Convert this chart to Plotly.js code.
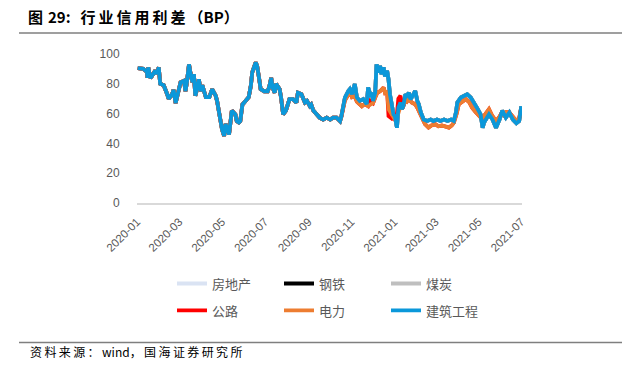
<!DOCTYPE html>
<html><head><meta charset="utf-8">
<script src="https://cdn.plot.ly/plotly-3.0.1.min.js"></script>
<style>html,body{margin:0;padding:0;background:#fff;}#chart{width:642px;height:365px;}</style>
</head><body><div id="chart"></div>
<script>
// 建筑工程 (blue) — also covers the hidden 房地产 / 钢铁 / 煤炭 lines
const constructionDates = ['2020-01-02','2020-01-10','2020-01-15','2020-01-16','2020-01-17','2020-01-20','2020-01-22','2020-01-27','2020-01-29','2020-02-01','2020-02-03','2020-02-08','2020-02-13','2020-02-15','2020-02-20','2020-02-22','2020-02-25','2020-02-27','2020-03-01','2020-03-03','2020-03-08','2020-03-10','2020-03-12','2020-03-15','2020-03-17','2020-03-20','2020-03-22','2020-03-24','2020-03-27','2020-03-29','2020-04-01','2020-04-03','2020-04-08','2020-04-13','2020-04-17','2020-04-22','2020-04-24','2020-04-27','2020-04-29','2020-05-01','2020-05-04','2020-05-06','2020-05-08','2020-05-11','2020-05-13','2020-05-15','2020-05-20','2020-05-22','2020-05-25','2020-05-27','2020-05-30','2020-06-03','2020-06-06','2020-06-08','2020-06-11','2020-06-13','2020-06-18','2020-06-20','2020-06-23','2020-06-25','2020-06-30','2020-07-05','2020-07-07','2020-07-10','2020-07-12','2020-07-15','2020-07-17','2020-07-22','2020-07-24','2020-07-27','2020-07-31','2020-08-05','2020-08-10','2020-08-15','2020-08-17','2020-08-22','2020-08-27','2020-08-30','2020-09-03','2020-09-05','2020-09-08','2020-09-12','2020-09-17','2020-09-22','2020-09-27','2020-10-02','2020-10-06','2020-10-11','2020-10-16','2020-10-18','2020-10-23','2020-10-28','2020-10-30','2020-11-02','2020-11-06','2020-11-09','2020-11-13','2020-11-18','2020-11-23','2020-11-25','2020-11-28','2020-11-30','2020-12-02','2020-12-05','2020-12-07','2020-12-10','2020-12-12','2020-12-14','2020-12-17','2020-12-19','2020-12-22','2020-12-24','2020-12-26','2020-12-29','2020-12-31','2021-01-02','2021-01-05','2021-01-07','2021-01-10','2021-01-12','2021-01-14','2021-01-17','2021-01-19','2021-01-22','2021-01-24','2021-01-26','2021-01-31','2021-02-03','2021-02-05','2021-02-08','2021-02-12','2021-02-17','2021-02-22','2021-02-26','2021-03-03','2021-03-08','2021-03-13','2021-03-18','2021-03-23','2021-03-27','2021-03-30','2021-04-01','2021-04-06','2021-04-11','2021-04-15','2021-04-20','2021-04-25','2021-04-30','2021-05-04','2021-05-07','2021-05-09','2021-05-14','2021-05-16','2021-05-21','2021-05-26','2021-05-31','2021-06-04','2021-06-09','2021-06-14','2021-06-19','2021-06-24','2021-06-28','2021-07-01'];
const constructionVals = [90.5,90,88,84,91,84,85,89,86.5,91,80,79,73,70,73,76,67,71,77.5,81,82,75,81,93,87.6,81,86.5,72,77.5,83,75,79,71,71,76.4,72,68.5,60.7,54,49.4,45,53,50.5,46,54,62,59.5,55,54,55,66,68.5,69.7,71,78.6,87.6,94.4,92,83,76.4,75,75,77.5,84,77.5,74,80,76.4,71,59.5,62,69.7,69.7,67.4,74,73,67.4,68.5,65,66,62,59.5,57.3,56,57.3,56,57.3,57.3,55,58.4,70.8,75.3,76.4,73,79.8,70.8,68.5,69.7,66.3,77.5,73,74,68.5,74,93,87.6,92,86.5,91,85,88.8,83,73,65,59.5,58.4,50.5,64,67.4,63,65,73,72,74,69.7,70.8,75.3,68.5,66.3,60.7,56,55,56,55,56,55,56,55,56,55,60.7,67.4,70.8,72,73,70.8,67.4,63,59.5,50.5,54,57.3,59.5,56,50.5,56,62,57.3,60.7,56,53.5,55,65];

// 电力 (orange) — where it separates from 建筑工程
const powerTailDates = ['2020-10-18','2020-10-23','2020-10-28','2020-10-30','2020-11-02','2020-11-06','2020-11-09','2020-11-13','2020-11-16','2020-11-20','2020-11-25','2020-11-28','2020-12-02','2020-12-05','2020-12-08','2020-12-12','2020-12-17','2020-12-19','2020-12-22','2020-12-24','2020-12-29','2020-12-31','2021-01-02','2021-01-05','2021-01-10','2021-01-12','2021-01-14','2021-01-17','2021-01-19','2021-01-22','2021-01-26','2021-01-31','2021-02-03','2021-02-05','2021-02-10','2021-02-14','2021-02-19','2021-02-23','2021-03-01','2021-03-05','2021-03-10','2021-03-15','2021-03-20','2021-03-24','2021-03-27','2021-03-31','2021-04-03','2021-04-08','2021-04-13','2021-04-18','2021-04-22','2021-04-27','2021-05-02','2021-05-06','2021-05-09','2021-05-13','2021-05-16','2021-05-20','2021-05-26','2021-05-31','2021-06-02','2021-06-07','2021-06-10','2021-06-14','2021-06-18','2021-06-24','2021-06-28','2021-07-01'];
const powerTailVals = [58,69,73,74.5,71,71.5,68,66,65,66.5,65,66,67,70.8,74,75,77.5,74,75,63,58.5,57.3,56,57,65,63,65,68.5,68,70,67.5,66.3,64,62,57.3,53,50.6,52,52.8,51.5,52,51.5,50.6,52,54,60,66.3,68,69.7,67.5,64,61,58.4,56.5,58.4,60.5,63,59,55,58,59.5,58.5,61,60.7,58,55,57,64];

// 公路 (red) — where it separates from 电力
const roadTailDates = ['2020-10-18','2020-10-23','2020-10-28','2020-10-30','2020-11-02','2020-11-06','2020-11-09','2020-11-13','2020-11-16','2020-11-20','2020-11-25','2020-11-28','2020-12-02','2020-12-05','2020-12-08','2020-12-12','2020-12-17','2020-12-19','2020-12-22','2020-12-24','2020-12-29','2020-12-31','2021-01-02','2021-01-05','2021-01-07','2021-01-10','2021-01-12','2021-01-14','2021-01-17','2021-01-19','2021-01-22','2021-01-26','2021-01-31','2021-02-03','2021-02-05','2021-02-10','2021-02-14','2021-02-19','2021-02-23','2021-03-01','2021-03-05','2021-03-10','2021-03-15','2021-03-20','2021-03-24','2021-03-27','2021-03-31','2021-04-03','2021-04-08','2021-04-13','2021-04-18','2021-04-22','2021-04-27','2021-05-02','2021-05-06','2021-05-09','2021-05-13','2021-05-16','2021-05-20','2021-05-26','2021-05-31','2021-06-02','2021-06-07','2021-06-10','2021-06-14','2021-06-18','2021-06-24','2021-06-28','2021-07-01'];
const roadTailVals = [58,69,73,74.5,71,71.5,68,66,65,66.5,65,68.5,67,70.8,74,75,77.5,74,75,58.4,56.5,57,56,60,70,72,66,65,68.5,68,70,67.5,66.3,64,62,57.3,53,50.6,52,52.8,51.5,52,51.5,50.6,52,54,60,66.3,68,69.7,67.5,64,61,58.4,56.5,58.4,60.5,63,59,55,58,59.5,58.5,61,60.7,58,55,57,64];

const seriesNames = ['房地产','钢铁','煤炭','公路','电力','建筑工程'];
const seriesColors = ['#DAE3F3','#000000','#BFBFBF','#FF0000','#ED7D31','#0B98DA'];
const xTicks = ['2020-01-01','2020-03-01','2020-05-01','2020-07-01','2020-09-01','2020-11-01','2021-01-01','2021-03-01','2021-05-01','2021-07-01'];
const xTickLabels = ['2020-01','2020-03','2020-05','2020-07','2020-09','2020-11','2021-01','2021-03','2021-05','2021-07'];
const titleFig = '图';
const titleNum = '29:';
const titleBody = '行业信用利差';
const titleUnit = '（BP）';
const sourceHead = '资料来源：';
const sourceVendor = 'wind，';
const sourceOrg = '国海证券研究所';

const splitDate = '2020-10-18';
function withTail(tailD, tailV){
  const d=[], v=[];
  constructionDates.forEach((dt,i)=>{ if(dt<splitDate){d.push(dt); v.push(constructionVals[i]);} });
  return {x:d.concat(tailD), y:v.concat(tailV)};
}
const power = withTail(powerTailDates, powerTailVals);
const road = withTail(roadTailDates, roadTailVals);

const xs = [constructionDates, constructionDates, constructionDates, road.x, power.x, constructionDates];
const ys = [constructionVals, constructionVals, constructionVals, road.y, power.y, constructionVals];

const traces = seriesNames.map((n,i)=>({
  type:'scatter', mode:'lines', name:n, x:xs[i], y:ys[i],
  line:{color:seriesColors[i], width:3.8},
  legend: i<3 ? 'legend' : 'legend2', hoverinfo:'skip'
}));

// emulate letter spacing
const TS = '\u2009';
const spaced = s => Array.from(s).join(TS);

const L=137, R=522, T=54, B=203.3;
const W=R-L, H=B-T;
const px = x => (x-L)/W, py = y => (B-y)/H;
const legFont = {family:'"Noto Sans CJK SC", "Liberation Sans", sans-serif', size:13, color:'#595959'};

const titleStr = '<b>' + titleFig + '\u2004' + titleNum + '\u2004\u2004' + spaced(titleBody) + TS + titleUnit + '</b>';
const sourceStr = spaced(sourceHead) + TS + sourceVendor + TS + spaced(sourceOrg);

const layout = {
  width:642, height:365,
  margin:{l:L, r:642-R, t:T, b:365-B, pad:0},
  paper_bgcolor:'#fff', plot_bgcolor:'#fff',
  showlegend:true,
  title:{text:titleStr, x:28/642, xanchor:'left', xref:'container', y:1-18/365, yanchor:'middle', yref:'container',
    font:{family:'"Noto Sans CJK SC", "Liberation Sans", sans-serif', size:15, color:'#000'}},
  xaxis:{type:'date', range:['2020-01-01','2021-07-02'], tickvals:xTicks, ticktext:xTickLabels, tickangle:-45,
    showgrid:false, zeroline:false, showline:true, linecolor:'#D9D9D9', linewidth:1.5,
    ticks:'outside', ticklen:6, tickcolor:'rgba(0,0,0,0)',
    tickfont:{family:'"Liberation Sans", Arial, sans-serif', size:11.5, color:'#595959'}},
  yaxis:{range:[0,100], tickvals:[0,20,40,60,80,100], showgrid:false, zeroline:false, showline:false,
    ticks:'outside', ticklen:14, tickcolor:'rgba(0,0,0,0)',
    tickfont:{family:'"Liberation Sans", Arial, sans-serif', size:12, color:'#595959'}},
  legend:{orientation:'h', x:px(172), xanchor:'left', y:py(284), yanchor:'middle', font:legFont,
    entrywidth:62, entrywidthmode:'pixels', bgcolor:'rgba(0,0,0,0)', traceorder:'normal'},
  legend2:{orientation:'h', x:px(172), xanchor:'left', y:py(311), yanchor:'middle', font:legFont,
    entrywidth:62, entrywidthmode:'pixels', bgcolor:'rgba(0,0,0,0)', traceorder:'normal'},
  shapes:[
    {type:'line', xref:'paper', yref:'paper', x0:px(19), x1:px(622), y0:py(33), y1:py(33), line:{color:'#7F7F7F', width:1.5}},
    {type:'line', xref:'paper', yref:'paper', x0:px(19), x1:px(622), y0:py(343), y1:py(343), line:{color:'#7F7F7F', width:1.5}}
  ],
  annotations:[
    {text:sourceStr, xref:'paper', yref:'paper', x:px(28), y:py(352), xanchor:'left', yanchor:'middle', showarrow:false,
     font:{family:'"Noto Sans CJK SC", "Liberation Sans", sans-serif', size:12, color:'#000'}}
  ]
};
Plotly.newPlot('chart', traces, layout, {staticPlot:true, displayModeBar:false});
</script></body></html>
